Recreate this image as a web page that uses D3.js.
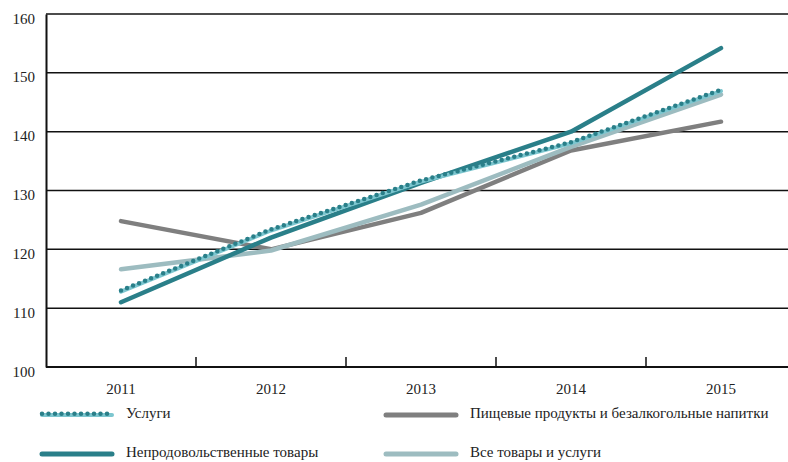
<!DOCTYPE html>
<html><head><meta charset="utf-8">
<script src="https://cdn.jsdelivr.net/npm/d3@7"></script>
<style>body{margin:0;background:#fff}svg{display:block}</style>
</head><body><svg id="c" width="788" height="462"></svg>
<script>
const years = ["2011","2012","2013","2014","2015"];
const yTicks = [100,110,120,130,140,150,160];
const services = [112.8,123.2,131.5,138.0,146.9];
const nonFood = [111.0,122.0,131.3,140.0,154.2];
const food = [124.8,120.0,126.2,136.8,141.7];
const allGoods = [116.6,119.8,127.6,137.4,146.3];
const seriesNames = ["Услуги","Непродовольственные товары","Пищевые продукты и безалкогольные напитки","Все товары и услуги"];

(function(){
const FONT = "'Liberation Serif', 'DejaVu Serif', 'Times New Roman', serif";
const svg = d3.select("#c");
const mLeft = 46, mRight = 796, mTop = 14, mBottom = 367;
const x = d3.scaleBand().domain(years).range([mLeft, mRight]);
const y = d3.scaleLinear().domain([100,160]).range([mBottom, mTop]);

svg.append("g").selectAll("line").data(yTicks.slice(1)).join("line")
  .attr("x1", mLeft).attr("x2", 788).attr("y1", d=>y(d)).attr("y2", d=>y(d))
  .attr("stroke", "#111").attr("stroke-width", 1.5);

const yAxis = svg.append("g").attr("transform", `translate(${mLeft},0)`)
  .call(d3.axisLeft(y).tickValues(yTicks).tickSize(0).tickPadding(11));
yAxis.attr("font-family", FONT);
yAxis.select(".domain").attr("stroke","#111").attr("stroke-width",2);
yAxis.selectAll("text").attr("font-size",15).attr("font-family",FONT).attr("dy","0.6em").attr("fill","#222");

const xAxis = svg.append("g").attr("transform", `translate(0,${mBottom})`)
  .call(d3.axisBottom(x).tickSize(0).tickPadding(16));
xAxis.attr("font-family", FONT);
xAxis.select(".domain").remove();
xAxis.selectAll("text").attr("font-size",15).attr("font-family",FONT).attr("fill","#222");
svg.append("line").attr("x1",mLeft).attr("x2",788).attr("y1",mBottom).attr("y2",mBottom)
  .attr("stroke","#111").attr("stroke-width",2);
svg.append("g").selectAll("line").data(years.slice(1)).join("line")
  .attr("x1",d=>x(d)).attr("x2",d=>x(d)).attr("y1",mBottom).attr("y2",mBottom-10)
  .attr("stroke","#111").attr("stroke-width",1.5);

const line = d3.line().x((d,i)=>x(years[i])+x.bandwidth()/2).y(d=>y(d));
const cTeal = "#2a7f89", cTealLight="#7cc6cf", cGray="#7f7f7f", cLight="#9dbcc0";

function drawSeries(g, data, kind){
  if(kind==="dotted"){
    g.append("path").attr("d", line(data)).attr("fill","none").attr("stroke",cTealLight).attr("stroke-width",4).attr("stroke-linecap","round");
    g.append("path").attr("d", line(data)).attr("fill","none").attr("stroke",cTeal).attr("stroke-width",4.5)
      .attr("stroke-linecap","round").attr("stroke-dasharray","0 6.5").attr("transform","translate(0,-1.2)");
  } else {
    const col = kind==="teal"?cTeal:kind==="gray"?cGray:cLight;
    g.append("path").attr("d", line(data)).attr("fill","none").attr("stroke",col).attr("stroke-width",4.5).attr("stroke-linecap","round").attr("stroke-linejoin","round");
  }
}
const plot = svg.append("g");
drawSeries(plot.append("g"), food, "gray");
drawSeries(plot.append("g"), allGoods, "light");
drawSeries(plot.append("g"), nonFood, "teal");
drawSeries(plot.append("g"), services, "dotted");

const legend = [
  {name:seriesNames[0], kind:"dotted", x:42, y:413},
  {name:seriesNames[1], kind:"teal", x:42, y:452},
  {name:seriesNames[2], kind:"gray", x:386, y:413},
  {name:seriesNames[3], kind:"light", x:386, y:452}
];
legend.forEach(l=>{
  const g = svg.append("g");
  const sw = [[l.x, l.y+2],[l.x+70, l.y+2]];
  const lp = d3.line();
  if(l.kind==="dotted"){
    g.append("path").attr("d",lp(sw)).attr("stroke",cTealLight).attr("stroke-width",4).attr("stroke-linecap","round");
    g.append("path").attr("d",lp(sw)).attr("stroke",cTeal).attr("stroke-width",4.5).attr("stroke-linecap","round").attr("stroke-dasharray","0 6.5").attr("transform","translate(0,-1.2)");
  } else {
    const col = l.kind==="teal"?cTeal:l.kind==="gray"?cGray:cLight;
    g.append("path").attr("d",lp(sw)).attr("stroke",col).attr("stroke-width",5).attr("stroke-linecap","round");
  }
  g.append("text").attr("x",l.x+84).attr("y",l.y+5).attr("font-size",15).attr("font-family",FONT).attr("fill","#222").text(l.name);
});
})();
</script></body></html>
